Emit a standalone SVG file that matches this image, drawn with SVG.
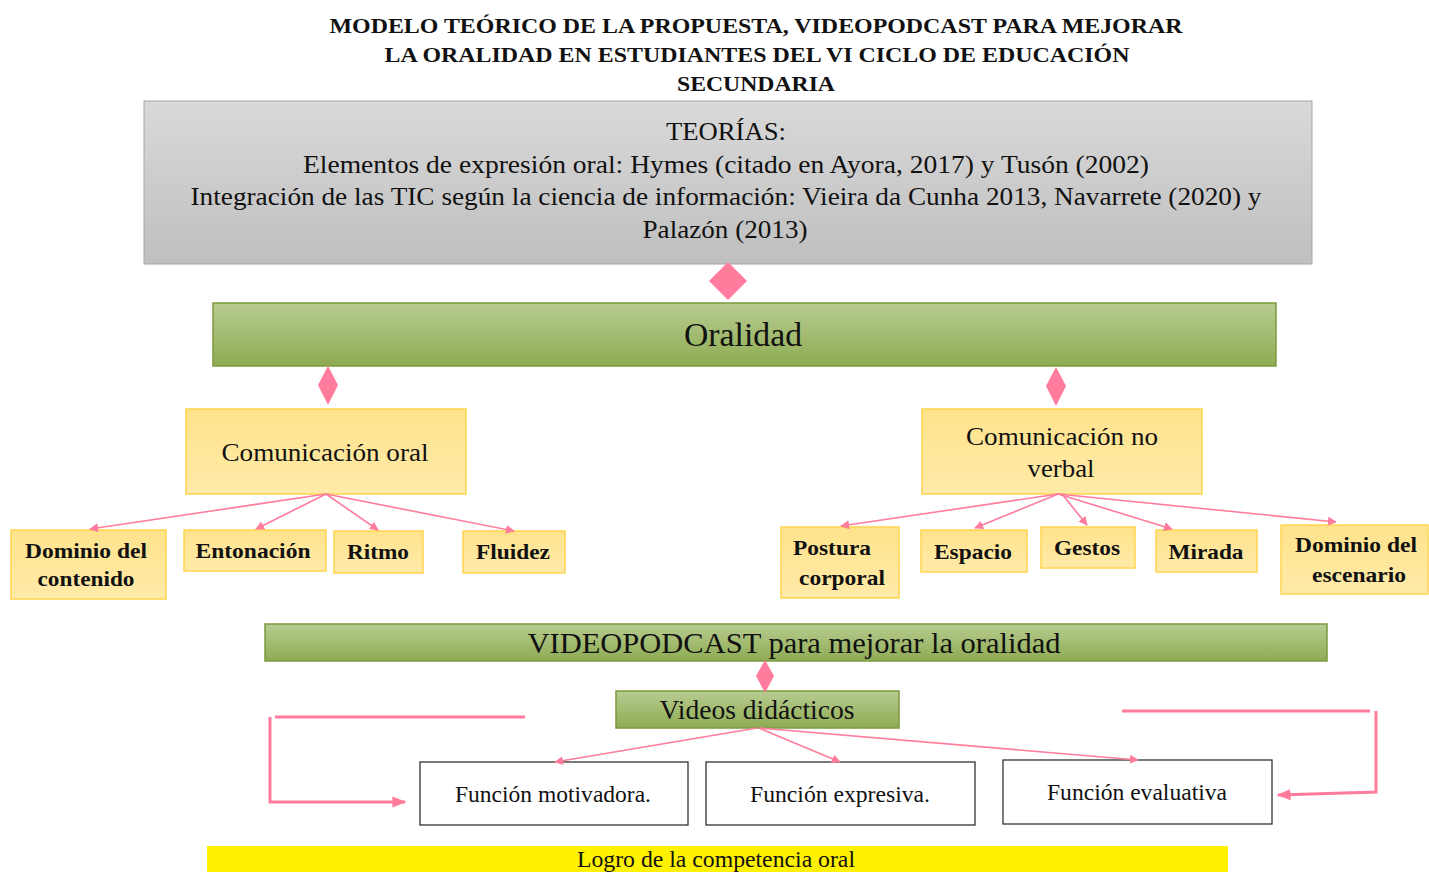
<svg xmlns="http://www.w3.org/2000/svg" width="1429" height="872" viewBox="0 0 1429 872">
<defs>
<linearGradient id="gGray" x1="0" y1="0" x2="0" y2="1"><stop offset="0" stop-color="#d9d9d9"/><stop offset="1" stop-color="#bfbfbf"/></linearGradient>
<linearGradient id="gGreen" x1="0" y1="0" x2="0" y2="1"><stop offset="0" stop-color="#b8cc91"/><stop offset="1" stop-color="#8eab52"/></linearGradient>
<linearGradient id="gYel" x1="0" y1="0" x2="0" y2="1"><stop offset="0" stop-color="#ffe38c"/><stop offset="1" stop-color="#ffeaa8"/></linearGradient>
<marker id="ah" viewBox="0 0 10 10" refX="9" refY="5" markerWidth="9" markerHeight="9" markerUnits="userSpaceOnUse" orient="auto"><path d="M0,0 L10,5 L0,10 z" fill="#ff7c9c"/></marker>
<marker id="ahb" viewBox="0 0 10 10" refX="9" refY="5" markerWidth="14" markerHeight="14" markerUnits="userSpaceOnUse" orient="auto"><path d="M0,1 L10,5 L0,9 z" fill="#ff7c9c"/></marker>
</defs>
<style>
.t{font-family:"Liberation Serif","Times New Roman",serif;fill:#111;text-anchor:middle}
.title{font-size:21px;font-weight:bold}
.gray{fill:url(#gGray);stroke:#a6a6a6;stroke-width:1}
.green{fill:url(#gGreen);stroke:#7b9a40;stroke-width:1.5}
.yel{fill:url(#gYel);stroke:#ffd54f;stroke-width:1.5}
.wbox{fill:#fff;stroke:#333;stroke-width:1.3}
.lbl{font-size:25px}
.b{font-size:22px;font-weight:bold}
.f{font-size:23px}
.conn line{stroke:#ff7c9c;stroke-width:1.6;marker-end:url(#ah)}
.br{stroke:#ff7c9c;stroke-width:3;fill:none}
.dm{fill:#ff7c9c}
</style>
<rect width="1429" height="872" fill="#fff"/>
<g id="title">
<text class="t title" x="756" y="33" textLength="853" lengthAdjust="spacingAndGlyphs">MODELO TEÓRICO DE LA PROPUESTA, VIDEOPODCAST PARA MEJORAR</text>
<text class="t title" x="757" y="62" textLength="745" lengthAdjust="spacingAndGlyphs">LA ORALIDAD EN ESTUDIANTES DEL VI CICLO DE EDUCACIÓN</text>
<text class="t title" x="756" y="91" textLength="158" lengthAdjust="spacingAndGlyphs">SECUNDARIA</text>
</g>
<g id="teorias">
<rect class="gray" x="144" y="101" width="1168" height="163"/>
<text class="t lbl" x="726" y="140" textLength="120" lengthAdjust="spacingAndGlyphs">TEORÍAS:</text>
<text class="t lbl" x="726" y="173" textLength="846" lengthAdjust="spacingAndGlyphs">Elementos de expresión oral: Hymes  (citado en Ayora, 2017) y Tusón (2002)</text>
<text class="t lbl" x="726" y="205" textLength="1071" lengthAdjust="spacingAndGlyphs">Integración de las TIC según la ciencia de información: Vieira da Cunha 2013, Navarrete (2020) y</text>
<text class="t lbl" x="725" y="238" textLength="165" lengthAdjust="spacingAndGlyphs">Palazón (2013)</text>
</g>
<g id="oralidad">
<rect class="green" x="213" y="303" width="1063" height="63"/>
<text class="t" x="743" y="346" font-size="33" textLength="118" lengthAdjust="spacingAndGlyphs">Oralidad</text>
</g>
<g id="com-oral">
<rect class="yel" x="186" y="409" width="280" height="85"/>
<text class="t" x="325" y="461" font-size="26" textLength="207" lengthAdjust="spacingAndGlyphs">Comunicación oral</text>
</g>
<g id="com-noverbal">
<rect class="yel" x="922" y="409" width="280" height="85"/>
<text class="t" x="1062" y="445" font-size="26" textLength="192" lengthAdjust="spacingAndGlyphs">Comunicación no</text>
<text class="t" x="1061" y="477" font-size="26" textLength="67" lengthAdjust="spacingAndGlyphs">verbal</text>
</g>
<g id="dominio-contenido">
<rect class="yel" x="11" y="530" width="155" height="69"/>
<text class="t b" x="86" y="558" textLength="122" lengthAdjust="spacingAndGlyphs">Dominio del</text>
<text class="t b" x="86" y="586" textLength="97" lengthAdjust="spacingAndGlyphs">contenido</text>
</g>
<g id="entonacion">
<rect class="yel" x="184" y="530" width="142" height="41"/>
<text class="t b" x="253" y="558" textLength="115" lengthAdjust="spacingAndGlyphs">Entonación</text>
</g>
<g id="ritmo">
<rect class="yel" x="334" y="531" width="89" height="42"/>
<text class="t b" x="378" y="559" textLength="62" lengthAdjust="spacingAndGlyphs">Ritmo</text>
</g>
<g id="fluidez">
<rect class="yel" x="463" y="531" width="102" height="42"/>
<text class="t b" x="513" y="559" textLength="74" lengthAdjust="spacingAndGlyphs">Fluidez</text>
</g>
<g id="postura">
<rect class="yel" x="781" y="527" width="118" height="71"/>
<text class="t b" x="832" y="555" textLength="78" lengthAdjust="spacingAndGlyphs">Postura</text>
<text class="t b" x="842" y="585" textLength="86" lengthAdjust="spacingAndGlyphs">corporal</text>
</g>
<g id="espacio">
<rect class="yel" x="921" y="530" width="106" height="42"/>
<text class="t b" x="973" y="559" textLength="78" lengthAdjust="spacingAndGlyphs">Espacio</text>
</g>
<g id="gestos">
<rect class="yel" x="1041" y="527" width="94" height="41"/>
<text class="t b" x="1087" y="555" textLength="66" lengthAdjust="spacingAndGlyphs">Gestos</text>
</g>
<g id="mirada">
<rect class="yel" x="1156" y="530" width="101" height="42"/>
<text class="t b" x="1206" y="559" textLength="75" lengthAdjust="spacingAndGlyphs">Mirada</text>
</g>
<g id="dominio-escenario">
<rect class="yel" x="1281" y="525" width="147" height="69"/>
<text class="t b" x="1356" y="552" textLength="122" lengthAdjust="spacingAndGlyphs">Dominio del</text>
<text class="t b" x="1359" y="582" textLength="94" lengthAdjust="spacingAndGlyphs">escenario</text>
</g>
<g id="videopodcast">
<rect class="green" x="265" y="624" width="1062" height="37"/>
<text class="t" x="794" y="653" font-size="30" textLength="533" lengthAdjust="spacingAndGlyphs">VIDEOPODCAST para mejorar la oralidad</text>
</g>
<g id="videos">
<rect class="green" x="616" y="691" width="283" height="37"/>
<text class="t" x="757" y="719" font-size="27" textLength="195" lengthAdjust="spacingAndGlyphs">Videos didácticos</text>
</g>
<g id="motivadora">
<rect class="wbox" x="420" y="762" width="268" height="63"/>
<text class="t f" x="553" y="802" textLength="196" lengthAdjust="spacingAndGlyphs">Función motivadora.</text>
</g>
<g id="expresiva">
<rect class="wbox" x="706" y="762" width="269" height="63"/>
<text class="t f" x="840" y="802" textLength="180" lengthAdjust="spacingAndGlyphs">Función expresiva.</text>
</g>
<g id="evaluativa">
<rect class="wbox" x="1003" y="760" width="269" height="64"/>
<text class="t f" x="1137" y="800" textLength="180" lengthAdjust="spacingAndGlyphs">Función evaluativa</text>
</g>
<g id="logro">
<rect x="207" y="846" width="1021" height="30" fill="#fff200"/>
<text class="t f" x="716" y="867" textLength="278" lengthAdjust="spacingAndGlyphs">Logro de la competencia oral</text>
</g>
<g id="connectors">
<path class="dm" d="M728,262 L747,281 L728,300 L709,281 z"/>
<path class="dm" d="M328,366 L338,385 L328,405 L318,385 z"/>
<path class="dm" d="M1056,367 L1066,386 L1056,406 L1046,386 z"/>
<path class="dm" d="M765,660 L774,676 L765,693 L756,676 z"/>
<g class="conn">
<line x1="326" y1="494" x2="90" y2="529"/>
<line x1="326" y1="494" x2="256" y2="529"/>
<line x1="326" y1="494" x2="378" y2="530"/>
<line x1="326" y1="494" x2="514" y2="531"/>
<line x1="1058" y1="494" x2="841" y2="526"/>
<line x1="1058" y1="494" x2="975" y2="528"/>
<line x1="1062" y1="494" x2="1087" y2="525"/>
<line x1="1058" y1="494" x2="1172" y2="529"/>
<line x1="1058" y1="494" x2="1336" y2="522"/>
<line x1="757" y1="728" x2="555" y2="762"/>
<line x1="759" y1="728" x2="840" y2="762"/>
<line x1="759" y1="728" x2="1138" y2="760"/>
</g>
<line class="br" x1="275" y1="717" x2="525" y2="717"/>
<polyline class="br" points="270,717 270,802 405,802" marker-end="url(#ahb)"/>
<line class="br" x1="1122" y1="711" x2="1370" y2="711"/>
<polyline class="br" points="1376,711 1376,792 1278,795" marker-end="url(#ahb)"/>
</g>
</svg>
